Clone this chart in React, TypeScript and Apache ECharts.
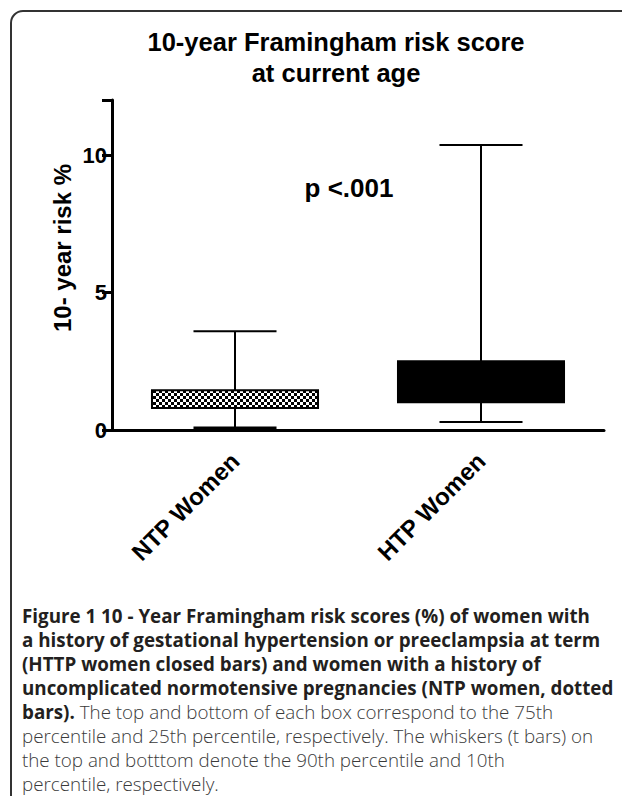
import React, { useEffect, useRef } from "react";
import * as echarts from "echarts";

const categories = ["NTP Women", "HTP Women"];
const p10 = [0.07, 0.29];
const p25 = [0.8, 1.01];
const p75 = [1.45, 2.5];
const p90 = [3.59, 10.36];
const yTicks = [0, 5, 10];

const titleLines = ["10-year Framingham risk score", "at current age"];
const pText = "p <.001";
const yName = "10- year risk %";

const captionBold = [
  "Figure 1 10 - Year Framingham risk scores (%) of women with",
  "a history of gestational hypertension or preeclampsia at term",
  "(HTTP women closed bars) and women with a history of",
  "uncomplicated normotensive pregnancies (NTP women, dotted",
];
const captionMixedBold = "bars).";
const captionMixedNormal = " The top and bottom of each box correspond to the 75th";
const captionNormal = [
  "percentile and 25th percentile, respectively. The whiskers (t bars) on",
  "the top and botttom denote the 90th percentile and 10th",
  "percentile, respectively.",
];

const FONT = "'Liberation Sans', Arial, sans-serif";
const CAP_FONT = "'Open Sans', 'Noto Sans', sans-serif";
const CAP_SIZE = 18.8;

function makeChecker(): HTMLCanvasElement {
  const c = document.createElement("canvas");
  c.width = 6;
  c.height = 6;
  const ctx = c.getContext("2d")!;
  ctx.fillStyle = "#000";
  ctx.fillRect(0, 0, 6, 6);
  ctx.fillStyle = "#fff";
  ctx.fillRect(0, 0, 3, 3);
  ctx.fillRect(3, 3, 3, 3);
  return c;
}

export default function App() {
  const ref = useRef<HTMLDivElement>(null);
  useEffect(() => {
    if (!ref.current) return;
    const chart = echarts.init(ref.current, undefined, { renderer: "svg" });
    const checker = makeChecker();
    const data = categories.map((_, i) => [i, p10[i], p25[i], p75[i], p90[i]]);

    const captionGraphics: any[] = [];
    const capX = 22;
    const capY0 = 616;
    const capStep = 24;
    captionBold.forEach((t, i) => {
      captionGraphics.push({
        type: "text",
        x: capX,
        y: capY0 + i * capStep,
        style: {
          text: t,
          fontFamily: CAP_FONT,
          fontSize: CAP_SIZE,
          fontWeight: "bold",
          fill: "#231f20",
          verticalAlign: "middle",
        },
      });
    });
    captionGraphics.push({
      type: "text",
      x: capX,
      y: capY0 + 4 * capStep,
      style: {
        text: `{b|${captionMixedBold}}{n|${captionMixedNormal}}`,
        verticalAlign: "middle",
        rich: {
          b: { fontFamily: CAP_FONT, fontSize: CAP_SIZE, fontWeight: "bold", fill: "#231f20" },
          n: { fontFamily: CAP_FONT, fontSize: CAP_SIZE, fontWeight: 300, fill: "#3a3a3a" },
        },
      },
    });
    captionNormal.forEach((t, i) => {
      captionGraphics.push({
        type: "text",
        x: capX,
        y: capY0 + (5 + i) * capStep,
        style: {
          text: t,
          fontFamily: CAP_FONT,
          fontSize: CAP_SIZE,
          fontWeight: 300,
          fill: "#3a3a3a",
          verticalAlign: "middle",
        },
      });
    });

    const frameStyle = { stroke: "#333", lineWidth: 2, fill: "none" };

    chart.setOption({
      animation: false,
      backgroundColor: "#fff",
      grid: { left: 112, right: 18, top: 100, bottom: 366, containLabel: false },
      xAxis: {
        type: "category",
        data: categories,
        boundaryGap: true,
        axisLine: { lineStyle: { color: "#000", width: 3 } },
        axisTick: { alignWithLabel: true, length: 10, lineStyle: { color: "#000", width: 3 } },
        axisLabel: {
          rotate: 45,
          margin: 27,
          color: "#000",
          fontFamily: FONT,
          fontWeight: "bold",
          fontSize: 24,
        },
        splitLine: { show: false },
      },
      yAxis: {
        type: "value",
        min: 0,
        max: 12,
        interval: 5,
        axisLine: { show: true, lineStyle: { color: "#000", width: 3 } },
        axisTick: { show: true, length: 10, lineStyle: { color: "#000", width: 3 } },
        axisLabel: {
          margin: 5,
          color: "#000",
          fontFamily: FONT,
          fontWeight: "bold",
          fontSize: 22,
          formatter: (v: number) => (yTicks.includes(v) ? String(v) : ""),
        },
        splitLine: { show: false },
      },
      graphic: [
        { type: "line", shape: { x1: 11, y1: 23, x2: 11, y2: 820 }, style: frameStyle, z: -1 },
        { type: "line", shape: { x1: 23, y1: 11, x2: 640, y2: 11 }, style: frameStyle, z: -1 },
        {
          type: "arc",
          shape: { cx: 23, cy: 23, r: 12, startAngle: Math.PI, endAngle: Math.PI * 1.5, clockwise: true },
          style: frameStyle,
          z: -1,
        },
        {
          type: "text",
          x: 336,
          y: 42,
          style: {
            text: titleLines[0],
            fontFamily: FONT,
            fontWeight: "bold",
            fontSize: 25.5,
            fill: "#000",
            align: "center",
            verticalAlign: "middle",
          },
        },
        {
          type: "text",
          x: 336,
          y: 73,
          style: {
            text: titleLines[1],
            fontFamily: FONT,
            fontWeight: "bold",
            fontSize: 25.5,
            fill: "#000",
            align: "center",
            verticalAlign: "middle",
          },
        },
        {
          type: "text",
          x: 349,
          y: 188,
          style: {
            text: pText,
            fontFamily: FONT,
            fontWeight: "bold",
            fontSize: 26,
            fill: "#000",
            align: "center",
            verticalAlign: "middle",
          },
        },
        {
          type: "text",
          x: 62,
          y: 248,
          rotation: Math.PI / 2,
          style: {
            text: yName,
            fontFamily: FONT,
            fontWeight: "bold",
            fontSize: 24,
            fill: "#000",
            align: "center",
            verticalAlign: "middle",
          },
        },
        ...captionGraphics,
      ],
      series: [
        {
          type: "custom",
          encode: { x: 0, y: [1, 2, 3, 4] },
          data,
          renderItem: (params: any, api: any) => {
            const idx = api.value(0);
            const band = api.size([1, 0])[0];
            const boxW = band * 0.675;
            const capW = boxW * 0.5;
            const pLo = api.coord([idx, api.value(1)]);
            const pQ1 = api.coord([idx, api.value(2)]);
            const pQ3 = api.coord([idx, api.value(3)]);
            const pHi = api.coord([idx, api.value(4)]);
            const cx = pQ1[0];
            const lineStyle = { stroke: "#000", lineWidth: 2 };
            const fill =
              idx === 0
                ? { image: checker, repeat: "repeat", imageWidth: 6, imageHeight: 6 }
                : "#000";
            return {
              type: "group",
              children: [
                { type: "line", shape: { x1: cx, y1: pQ3[1], x2: cx, y2: pHi[1] }, style: lineStyle },
                { type: "line", shape: { x1: cx - capW / 2, y1: pHi[1], x2: cx + capW / 2, y2: pHi[1] }, style: lineStyle },
                { type: "line", shape: { x1: cx, y1: pQ1[1], x2: cx, y2: pLo[1] }, style: lineStyle },
                { type: "line", shape: { x1: cx - capW / 2, y1: pLo[1], x2: cx + capW / 2, y2: pLo[1] }, style: { stroke: "#000", lineWidth: idx === 0 ? 3 : 2 } },
                {
                  type: "rect",
                  shape: { x: cx - boxW / 2, y: pQ3[1], width: boxW, height: pQ1[1] - pQ3[1] },
                  style: { fill, stroke: "#000", lineWidth: 2 },
                },
              ],
            };
          },
          z: 3,
        },
      ],
    });
    return () => chart.dispose();
  }, []);
  return (
    <div
      ref={ref}
      style={{ position: "fixed", left: 0, top: 0, width: 622, height: 796, background: "#fff" }}
    />
  );
}
